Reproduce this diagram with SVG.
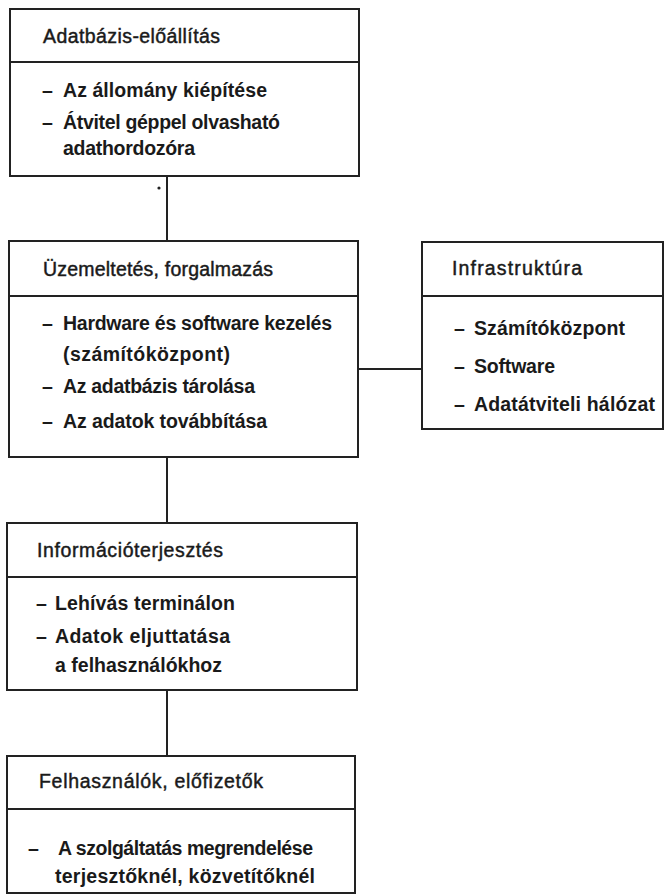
<svg xmlns="http://www.w3.org/2000/svg" width="665" height="896" viewBox="0 0 665 896">
<style>
.box{fill:none;stroke:#222;stroke-width:2}
.div{stroke:#222;stroke-width:2}
.con{stroke:#222;stroke-width:2;fill:none}
.h{font-family:"Liberation Sans",Arial,sans-serif;font-size:19.5px;fill:#1a1a1a;stroke:#1a1a1a;stroke-width:0.45}
.b{font-family:"Liberation Sans",Arial,sans-serif;font-size:19.5px;font-weight:bold;fill:#1a1a1a}
</style>
<rect width="665" height="896" fill="#fff"/>
<g id="connectors">
<line class="con" x1="167" y1="176" x2="167" y2="241"/>
<line class="con" x1="167" y1="457" x2="167" y2="523"/>
<line class="con" x1="167" y1="690" x2="167" y2="756"/>
<line class="con" x1="358" y1="369" x2="422" y2="369"/>
<circle cx="159" cy="188" r="1.6" fill="#222"/>
</g>
<g id="adatbazis">
<rect class="box" x="10" y="9" width="349" height="167"/>
<line class="div" x1="10" y1="62" x2="359" y2="62"/>
<text class="h" x="43" y="43" textLength="177" lengthAdjust="spacing">Adatbázis-előállítás</text>
<text class="b" y="97"><tspan x="42">–</tspan><tspan x="63" textLength="204" lengthAdjust="spacing">Az állomány kiépítése</tspan></text>
<text class="b" y="129"><tspan x="42">–</tspan><tspan x="63" textLength="217" lengthAdjust="spacing">Átvitel géppel olvasható</tspan></text>
<text class="b" x="63" y="155" textLength="132" lengthAdjust="spacing">adathordozóra</text>
</g>
<g id="uzemeltetes">
<rect class="box" x="9" y="241" width="349" height="216"/>
<line class="div" x1="9" y1="296" x2="358" y2="296"/>
<text class="h" x="43" y="276" textLength="230" lengthAdjust="spacing">Üzemeltetés, forgalmazás</text>
<text class="b" y="330"><tspan x="42">–</tspan><tspan x="63" textLength="269" lengthAdjust="spacing">Hardware és software kezelés</tspan></text>
<text class="b" x="63" y="361" textLength="167" lengthAdjust="spacing">(számítóközpont)</text>
<text class="b" y="393"><tspan x="42">–</tspan><tspan x="63" textLength="192" lengthAdjust="spacing">Az adatbázis tárolása</tspan></text>
<text class="b" y="428"><tspan x="42">–</tspan><tspan x="63" textLength="204" lengthAdjust="spacing">Az adatok továbbítása</tspan></text>
</g>
<g id="infrastruktura">
<rect class="box" x="422" y="242" width="241" height="187"/>
<line class="div" x1="422" y1="296" x2="663" y2="296"/>
<text class="h" x="452" y="275" textLength="130" lengthAdjust="spacing">Infrastruktúra</text>
<text class="b" y="335"><tspan x="454">–</tspan><tspan x="474" textLength="151" lengthAdjust="spacing">Számítóközpont</tspan></text>
<text class="b" y="373"><tspan x="454">–</tspan><tspan x="474" textLength="81" lengthAdjust="spacing">Software</tspan></text>
<text class="b" y="411"><tspan x="454">–</tspan><tspan x="474" textLength="181" lengthAdjust="spacing">Adatátviteli hálózat</tspan></text>
</g>
<g id="informacioterjesztes">
<rect class="box" x="7" y="523" width="350" height="167"/>
<line class="div" x1="7" y1="577" x2="357" y2="577"/>
<text class="h" x="37" y="557" textLength="186" lengthAdjust="spacing">Információterjesztés</text>
<text class="b" y="610"><tspan x="36">–</tspan><tspan x="55" textLength="180" lengthAdjust="spacing">Lehívás terminálon</tspan></text>
<text class="b" y="643"><tspan x="36">–</tspan><tspan x="55" textLength="175" lengthAdjust="spacing">Adatok eljuttatása</tspan></text>
<text class="b" x="55" y="672" textLength="167" lengthAdjust="spacing">a felhasználókhoz</text>
</g>
<g id="felhasznalok">
<rect class="box" x="7" y="756" width="348" height="137"/>
<line class="div" x1="7" y1="809" x2="355" y2="809"/>
<text class="h" x="39" y="788" textLength="224" lengthAdjust="spacing">Felhasználók, előfizetők</text>
<text class="b" y="855"><tspan x="28">–</tspan><tspan x="58" textLength="255" lengthAdjust="spacing">A szolgáltatás megrendelése</tspan></text>
<text class="b" x="55" y="883" textLength="260" lengthAdjust="spacing">terjesztőknél, közvetítőknél</text>
</g>
</svg>
